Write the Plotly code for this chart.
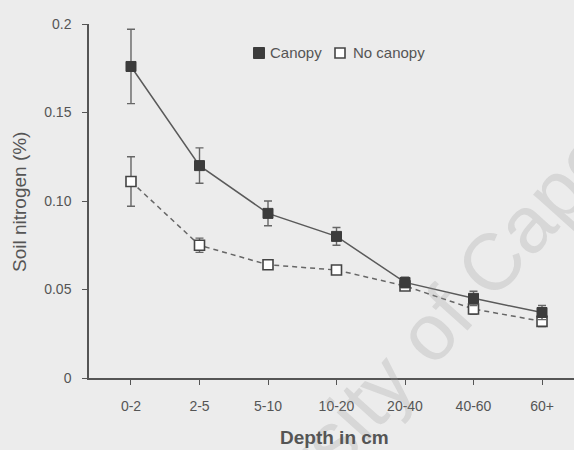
import plotly.graph_objects as go

# Soil depth classes (cm)
depths = ["0-2", "2-5", "5-10", "10-20", "20-40", "40-60", "60+"]

# Mean soil nitrogen (%) and standard errors under canopy and in the open
canopy_n = [0.176, 0.120, 0.093, 0.080, 0.054, 0.045, 0.037]
canopy_se = [0.021, 0.010, 0.007, 0.005, 0.003, 0.004, 0.004]
open_n = [0.111, 0.075, 0.064, 0.061, 0.052, 0.039, 0.032]
open_se = [0.014, 0.004, 0.002, 0.002, 0.002, 0.003, 0.003]

y_tick_vals = [0, 0.05, 0.10, 0.15, 0.2]
y_tick_text = ["0", "0.05", "0.10", "0.15", "0.2"]

series_names = ["Canopy", "No canopy"]

BG = "#ececec"
INK = "#555555"
FONT = "Liberation Sans, Arial, sans-serif"

fig = go.Figure()

fig.add_trace(go.Scatter(
    x=depths, y=open_n, name=series_names[1], mode="lines+markers",
    line=dict(color="#666666", width=1.5, dash="5px,4px"),
    marker=dict(symbol="square", size=10, color="white",
                line=dict(color="#444444", width=1.6)),
    error_y=dict(type="data", array=open_se, visible=True,
                 color="#666666", thickness=1.4, width=4),
    showlegend=False,
))

fig.add_trace(go.Scatter(
    x=depths, y=canopy_n, name=series_names[0], mode="lines+markers",
    line=dict(color="#5a5a5a", width=1.5),
    marker=dict(symbol="square", size=10, color="#3c3c3c",
                line=dict(color="#3c3c3c", width=1)),
    error_y=dict(type="data", array=canopy_se, visible=True,
                 color="#666666", thickness=1.4, width=4),
    showlegend=False,
))

# Plot area geometry in pixels, used to place the key and titles
L, R, T, B = 89, 0, 24, 72
W, H = 574, 450
pw, ph = W - L - R, H - T - B


def px_x(p):
    return (p - L) / pw


def px_y(p):
    return (H - B - p) / ph


# Key: filled square + "Canopy", open square + "No canopy"
shapes = [
    dict(type="rect", xref="paper", yref="paper",
         xsizemode="pixel", ysizemode="pixel",
         xanchor=px_x(259), yanchor=px_y(53),
         x0=-5.5, x1=5.5, y0=-5.5, y1=5.5,
         fillcolor="#3c3c3c", line=dict(color="#3c3c3c", width=1)),
    dict(type="rect", xref="paper", yref="paper",
         xsizemode="pixel", ysizemode="pixel",
         xanchor=px_x(340), yanchor=px_y(53),
         x0=-5, x1=5, y0=-5, y1=5,
         fillcolor="white", line=dict(color="#444444", width=1.6)),
]

annotations = [
    # watermark across the page
    dict(text="University of Cape Town", x=px_x(450), y=px_y(308),
         xref="paper", yref="paper", showarrow=False, textangle=-48,
         xanchor="center", yanchor="middle",
         font=dict(family=FONT, size=80, color="rgba(150,150,150,0.25)")),
    dict(text=series_names[0], x=px_x(268), y=px_y(53), xref="paper", yref="paper",
         showarrow=False, xanchor="left", yanchor="middle",
         font=dict(family=FONT, size=15, color=INK)),
    dict(text=series_names[1], x=px_x(351), y=px_y(53), xref="paper", yref="paper",
         showarrow=False, xanchor="left", yanchor="middle",
         font=dict(family=FONT, size=15, color=INK)),
    dict(text="Soil nitrogen (%)", x=px_x(20), y=px_y(202), xref="paper", yref="paper",
         showarrow=False, textangle=-90, xanchor="center", yanchor="middle",
         font=dict(family=FONT, size=19, color=INK)),
    dict(text="<b>Depth in cm</b>", x=px_x(334), y=px_y(437), xref="paper", yref="paper",
         showarrow=False, xanchor="center", yanchor="middle",
         font=dict(family=FONT, size=19, color=INK)),
]

fig.update_layout(
    width=W, height=H,
    margin=dict(l=L, r=R, t=T, b=B),
    paper_bgcolor=BG, plot_bgcolor=BG,
    font=dict(family=FONT, color=INK),
    shapes=shapes,
    annotations=annotations,
    xaxis=dict(
        type="category", range=[-0.613, 6.467],
        showgrid=False, zeroline=False,
        showline=True, linecolor=INK, linewidth=1.5,
        ticks="outside", ticklen=5, tickcolor=INK, tickwidth=1.2,
        tickfont=dict(size=14, color=INK), ticklabelstandoff=9,
    ),
    yaxis=dict(
        range=[0, 0.2], showgrid=False, zeroline=False,
        showline=True, linecolor=INK, linewidth=1.5,
        tickvals=y_tick_vals, ticktext=y_tick_text,
        ticks="outside", ticklen=5, tickcolor=INK, tickwidth=1.2,
        tickfont=dict(size=14, color=INK), ticklabelstandoff=8,
    ),
)

fig.write_html("out.html")
